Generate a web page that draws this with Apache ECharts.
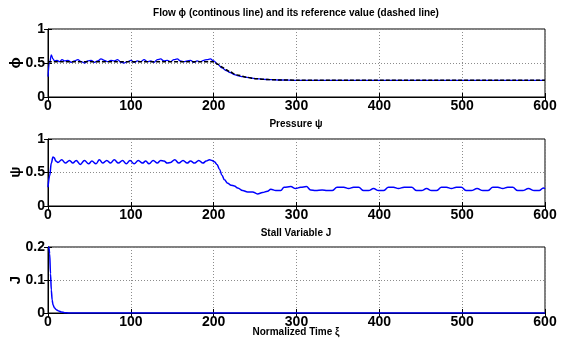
<!DOCTYPE html>
<html>
<head>
<meta charset="utf-8">
<script src="https://cdn.jsdelivr.net/npm/echarts@6/dist/echarts.min.js"></script>
<style>
  html, body { margin: 0; padding: 0; background: #fff; }
  #chart { width: 563px; height: 342px; }
</style>
</head>
<body>
<div id="chart"></div>
<script>
// flow phi (blue) and its reference (dashed black)
var tPhi = [0, 2, 4, 6, 8, 11, 14, 17, 20, 24, 28, 32, 36, 40, 44, 48, 52, 56, 60, 64, 68, 72, 76, 80, 84, 88, 92, 96,
  100, 104, 108, 112, 116, 120, 124, 128, 132, 136, 140, 144, 148, 152, 156, 160, 164, 168, 172, 176, 180, 184, 188,
  192, 196, 200, 205, 210, 215, 220, 225, 230, 235, 240, 250, 260, 270, 280, 300, 330, 360, 400, 450, 500, 550, 600]
var phi = [0.3, 0.5, 0.62, 0.56, 0.53, 0.54, 0.52, 0.55, 0.53, 0.54, 0.51, 0.53, 0.55, 0.52, 0.5, 0.53, 0.54, 0.51,
  0.53, 0.56, 0.54, 0.52, 0.54, 0.53, 0.55, 0.51, 0.5, 0.52, 0.54, 0.51, 0.53, 0.52, 0.55, 0.52, 0.53, 0.51, 0.55,
  0.56, 0.53, 0.54, 0.52, 0.55, 0.56, 0.53, 0.52, 0.53, 0.54, 0.51, 0.53, 0.52, 0.54, 0.55, 0.56, 0.53, 0.48, 0.43,
  0.39, 0.36, 0.33, 0.31, 0.3, 0.29, 0.27, 0.26, 0.255, 0.25, 0.245, 0.245, 0.245, 0.245, 0.245, 0.245, 0.245, 0.245]
var tRef = [0, 200, 205, 210, 215, 220, 225, 230, 240, 250, 260, 270, 280, 300, 600]
var phiRef = [0.52, 0.52, 0.48, 0.44, 0.4, 0.37, 0.34, 0.32, 0.29, 0.27, 0.26, 0.255, 0.25, 0.248, 0.245]

// pressure psi
var tPsi = [0, 2, 4, 6, 7.5, 9.5, 12, 16.5, 21, 26, 30, 34, 39, 44, 49, 53, 58, 62, 66, 71, 75.5, 80, 85, 90, 94.5,
  99, 104, 109, 114, 118, 122, 127, 132, 136, 140, 144, 148, 153, 158, 163, 168, 172, 177, 182, 187, 191, 195, 198,
  201, 204, 207, 210, 213, 217, 221, 225, 229, 235, 241, 247, 253, 259, 265, 269, 275, 281, 285, 293, 299, 305, 312,
  317, 323, 331, 337, 343, 349, 357, 363, 369, 375, 381, 387, 393, 399, 405, 411, 417, 423, 430, 439, 445, 451, 457,
  463, 469, 475, 481, 487, 493, 499, 505, 511, 518, 525, 531, 537, 543, 549, 555, 561, 567, 573, 580, 587, 593, 598, 600]
var psi = [0.28, 0.45, 0.64, 0.73, 0.72, 0.67, 0.65, 0.69, 0.64, 0.68, 0.64, 0.68, 0.62, 0.68, 0.63, 0.67, 0.63, 0.69,
  0.64, 0.68, 0.64, 0.69, 0.64, 0.68, 0.63, 0.68, 0.63, 0.68, 0.64, 0.67, 0.63, 0.68, 0.64, 0.68, 0.67, 0.64, 0.65,
  0.69, 0.64, 0.68, 0.64, 0.67, 0.64, 0.68, 0.64, 0.67, 0.69, 0.68, 0.66, 0.62, 0.55, 0.46, 0.39, 0.34, 0.31, 0.3,
  0.27, 0.23, 0.21, 0.21, 0.18, 0.2, 0.22, 0.25, 0.23, 0.23, 0.28, 0.29, 0.26, 0.28, 0.29, 0.24, 0.23, 0.24, 0.23,
  0.23, 0.28, 0.28, 0.26, 0.28, 0.28, 0.23, 0.23, 0.26, 0.23, 0.23, 0.28, 0.28, 0.26, 0.28, 0.28, 0.23, 0.23, 0.26,
  0.23, 0.23, 0.28, 0.28, 0.26, 0.28, 0.28, 0.23, 0.23, 0.26, 0.23, 0.23, 0.28, 0.28, 0.26, 0.28, 0.28, 0.23, 0.23,
  0.26, 0.23, 0.23, 0.27, 0.26]

// stall variable J
var tJ = [0, 1, 2, 3, 4, 5, 6, 8, 10, 13, 16, 20, 25, 600]
var stallJ = [0.2, 0.2, 0.18, 0.12, 0.07, 0.04, 0.025, 0.015, 0.01, 0.006, 0.003, 0.001, 0, 0]

var xTicks = [0, 100, 200, 300, 400, 500, 600]
var yNames = ['ϕ', 'ψ', 'J']

var pairs = function (t, v) {
  return t.map(function (x, i) { return [x, v[i]] })
}

var chartDom = document.getElementById('chart')
var myChart = echarts.init(chartDom, null, { renderer: 'canvas' })

var FONT = 'Liberation Sans'
var grids = [
  { left: 48, right: 18, top: 29, height: 68 },
  { left: 48, right: 18, top: 139, height: 67 },
  { left: 48, right: 18, top: 247, height: 66 },
]
grids.forEach(function (g) {
  g.show = true
  g.borderColor = '#000'
  g.borderWidth = 1
  g.backgroundColor = '#fff'
  g.outerBoundsMode = 'none'
  g.containLabel = false
})

var dotted = { show: true, lineStyle: { color: '#8c8c8c', type: [1, 2], width: 1 } }
var tick = { show: true, inside: true, length: 4, lineStyle: { color: '#000', width: 1 } }
var label = { color: '#000', fontFamily: FONT, fontWeight: 'bold', fontSize: 14 }

var xAxes = []
var yAxes = []
var yMax = [1, 1, 0.2]
var yStep = [0.5, 0.5, 0.1]
for (var i = 0; i < 3; i++) {
  xAxes.push({
    type: 'value', gridIndex: i, min: 0, max: 600, interval: 100,
    axisLine: { lineStyle: { color: '#000' } },
    axisTick: tick,
    splitLine: dotted,
    axisLabel: Object.assign({ margin: 2, formatter: function (v) { return xTicks.indexOf(v) >= 0 ? String(v) : '' } }, label),
  })
  xAxes.push({
    type: 'value', gridIndex: i, position: 'top', min: 0, max: 600, interval: 100,
    axisLine: { show: false }, axisTick: tick, splitLine: { show: false }, axisLabel: { show: false },
  })
  yAxes.push({
    type: 'value', gridIndex: i, min: 0, max: yMax[i], interval: yStep[i],
    axisLine: { lineStyle: { color: '#000' } },
    axisTick: tick,
    splitLine: dotted,
    axisLabel: Object.assign({ margin: 3, formatter: function (v) { return String(Math.round(v * 10) / 10) } }, label),
  })
  yAxes.push({
    type: 'value', gridIndex: i, position: 'right', min: 0, max: yMax[i], interval: yStep[i],
    axisLine: { show: false }, axisTick: tick, splitLine: { show: false }, axisLabel: { show: false },
  })
}

var titleText = function (text, y) {
  return {
    type: 'text', x: 296, y: y,
    style: { text: text, textAlign: 'center', textVerticalAlign: 'middle', font: 'bold 10px "Liberation Sans"', fill: '#000' },
  }
}
var nameText = function (text, y) {
  return {
    type: 'text', x: 16, y: y, rotation: Math.PI / 2,
    style: { text: text, textAlign: 'center', textVerticalAlign: 'middle', font: 'bold 15px "Liberation Sans"', fill: '#000' },
  }
}

var option = {
  animation: false,
  backgroundColor: '#fff',
  grid: grids,
  xAxis: xAxes,
  yAxis: yAxes,
  graphic: [
    titleText('Flow ϕ (continous line) and its reference value (dashed line)', 13),
    titleText('Pressure ψ', 124),
    titleText('Stall Variable J', 233),
    titleText('Normalized Time ξ', 332),
    nameText(yNames[0], 63),
    nameText(yNames[1], 172),
    nameText(yNames[2], 280),
  ],
  series: [
    {
      type: 'line', xAxisIndex: 0, yAxisIndex: 0, data: pairs(tRef, phiRef), showSymbol: false,
      smooth: 0.3, smoothMonotone: 'x',
      lineStyle: { color: '#000', width: 1.5, type: [4, 2] }, z: 3,
    },
    {
      type: 'line', xAxisIndex: 0, yAxisIndex: 0, data: pairs(tPhi, phi), showSymbol: false,
      smooth: 0.4, smoothMonotone: 'x',
      lineStyle: { color: '#0000ff', width: 1.3 }, z: 2,
    },
    {
      type: 'line', xAxisIndex: 2, yAxisIndex: 2, data: pairs(tPsi, psi), showSymbol: false,
      smooth: 0.4, smoothMonotone: 'x',
      lineStyle: { color: '#0000ff', width: 1.5 },
    },
    {
      type: 'line', xAxisIndex: 4, yAxisIndex: 4, data: pairs(tJ, stallJ), showSymbol: false,
      smooth: 0.3, smoothMonotone: 'x',
      lineStyle: { color: '#0000ff', width: 1.5 },
    },
  ],
}

option && myChart.setOption(option)
</script>
</body>
</html>
